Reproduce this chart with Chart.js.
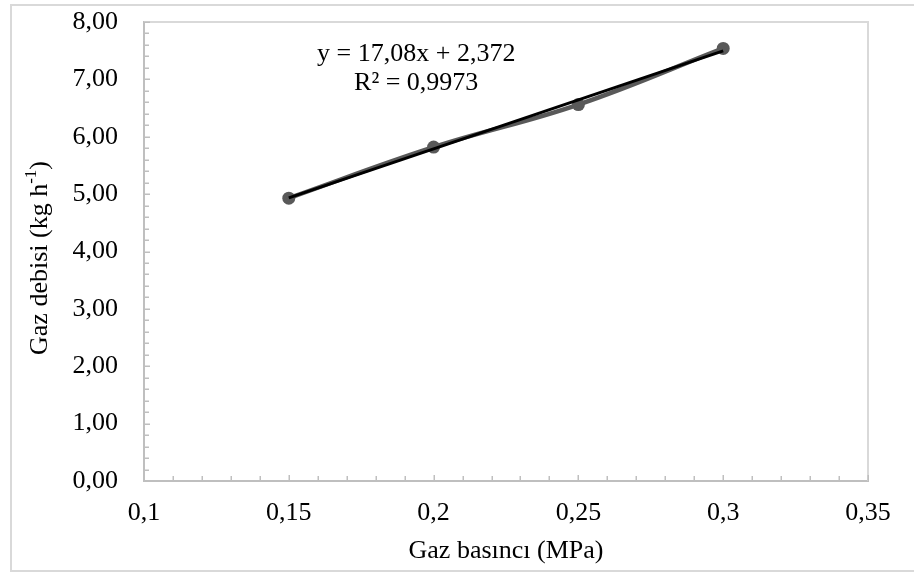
<!DOCTYPE html>
<html>
<head>
<meta charset="utf-8">
<script src="https://cdn.jsdelivr.net/npm/chart.js@4.4.0/dist/chart.umd.min.js"></script>
<style>
  html, body { margin: 0; padding: 0; background: #fff; }
  #wrap { position: relative; width: 914px; height: 576px; }
  #frame { position: absolute; left: 10px; top: 4px; width: 902px; height: 564px;
           border: 2px solid #d9d9d9; pointer-events: none; }
</style>
</head>
<body>
<div id="wrap">
  <canvas id="grafik" width="914" height="576"></canvas>
  <div id="frame"></div>
</div>
<script>
// Veriler
const basinc = [0.15, 0.2, 0.25, 0.3];
const debi = [4.93, 5.82, 6.56, 7.54];
const trendX = [0.15, 0.3];
const trendY = [4.934, 7.496];
const xEtiketler = ['0,1', '0,15', '0,2', '0,25', '0,3', '0,35'];
const yEtiketler = ['0,00', '1,00', '2,00', '3,00', '4,00', '5,00', '6,00', '7,00', '8,00'];
const denklem = ['y = 17,08x + 2,372', 'R² = 0,9973'];

const yazi = 'Liberation Serif, Times New Roman, serif';
const eksenRengi = '#bfbfbf';

// ara çentikler, çerçeve, y başlığı ve denklem
const ekstralar = {
    id: 'ekstralar',
    beforeDatasetsDraw(chart) {
        const { ctx, chartArea: a, scales: { x, y } } = chart;
        ctx.save();
        ctx.strokeStyle = '#d9d9d9';
        ctx.lineWidth = 2;
        ctx.beginPath();
        ctx.moveTo(a.left, a.top);
        ctx.lineTo(a.right, a.top);
        ctx.lineTo(a.right, a.bottom);
        ctx.stroke();

        ctx.strokeStyle = eksenRengi;
        ctx.lineWidth = 1.5;
        ctx.beginPath();
        for (let i = 0; i <= 40; i++) {
            const py = Math.round(y.getPixelForValue(i * 0.2)) + 0.25;
            const len = i % 5 === 0 ? 6 : 5;
            ctx.moveTo(a.left, py);
            ctx.lineTo(a.left + len, py);
        }
        for (let i = 0; i <= 25; i++) {
            const px = Math.round(x.getPixelForValue(0.1 + i * 0.01)) + 0.25;
            const len = i % 5 === 0 ? 6 : 5;
            ctx.moveTo(px, a.bottom);
            ctx.lineTo(px, a.bottom - len);
        }
        ctx.stroke();
        ctx.restore();
    },
    afterDraw(chart) {
        const { ctx, scales: { x, y } } = chart;
        ctx.save();
        ctx.fillStyle = '#000';
        ctx.textBaseline = 'middle';

        // y ekseni başlığı (üst simgeli)
        const buyuk = '26px ' + yazi, kucuk = '17px ' + yazi;
        const p1 = 'Gaz debisi (kg h', p2 = '-1', p3 = ')';
        ctx.font = buyuk;
        const w1 = ctx.measureText(p1).width, w3 = ctx.measureText(p3).width;
        ctx.font = kucuk;
        const w2 = ctx.measureText(p2).width;
        const top = w1 + w2 + w3;
        ctx.translate(40, 258);
        ctx.rotate(-Math.PI / 2);
        ctx.textAlign = 'left';
        let sx = -top / 2;
        ctx.font = buyuk;
        ctx.fillText(p1, sx, 0);
        sx += w1;
        ctx.font = kucuk;
        ctx.fillText(p2, sx, -8);
        sx += w2;
        ctx.font = buyuk;
        ctx.fillText(p3, sx, 0);
        ctx.setTransform(1, 0, 0, 1, 0, 0);

        // trend denklemi
        ctx.textAlign = 'center';
        ctx.font = buyuk;
        const cx = x.getPixelForValue(0.194);
        const cy = y.getPixelForValue(7.44);
        ctx.fillText(denklem[0], cx, cy);
        ctx.fillText(denklem[1], cx, cy + 29);
        ctx.restore();
    }
};

const ctx = document.getElementById('grafik').getContext('2d');

const grafik = new Chart(ctx, {
    type: 'line',
    data: {
        datasets: [
            {
                label: 'Doğrusal',
                data: trendX.map((v, i) => ({ x: v, y: trendY[i] })),
                borderColor: '#000000',
                borderWidth: 3,
                pointRadius: 0,
                tension: 0,
                order: 0
            },
            {
                label: 'Gaz debisi',
                data: basinc.map((v, i) => ({ x: v, y: debi[i] })),
                borderColor: '#595959',
                backgroundColor: '#595959',
                borderWidth: 4.5,
                pointRadius: 6.5,
                pointBackgroundColor: '#595959',
                pointBorderWidth: 0,
                tension: 0.4,
                order: 1
            }
        ]
    },
    options: {
        responsive: false,
        animation: false,
        devicePixelRatio: 1,
        layout: { padding: { left: 0, top: 22, right: 46, bottom: 0 } },
        plugins: { legend: { display: false }, tooltip: { enabled: false } },
        scales: {
            x: {
                type: 'linear',
                position: 'bottom',
                min: 0.1,
                max: 0.35,
                afterFit(s) { s.height = 95; s.paddingLeft = 0; s.paddingRight = 0; },
                ticks: {
                    stepSize: 0.05,
                    padding: 17,
                    color: '#000',
                    font: { family: yazi, size: 26 },
                    maxRotation: 0,
                    callback: (v, i) => xEtiketler[i]
                },
                grid: { display: false, drawTicks: false },
                border: { color: eksenRengi, width: 2 },
                title: {
                    display: true,
                    text: 'Gaz basıncı (MPa)',
                    color: '#000',
                    font: { family: yazi, size: 26 },
                    padding: { top: 0, bottom: 9 }
                }
            },
            y: {
                type: 'linear',
                min: 0,
                max: 8,
                afterFit(s) { s.width = 144; s.paddingTop = 0; s.paddingBottom = 0; },
                ticks: {
                    stepSize: 1,
                    padding: 26,
                    color: '#000',
                    font: { family: yazi, size: 26 },
                    callback: (v, i) => yEtiketler[i]
                },
                grid: { display: false, drawTicks: false },
                border: { color: eksenRengi, width: 2 }
            }
        }
    },
    plugins: [ekstralar]
});
</script>
</body>
</html>
